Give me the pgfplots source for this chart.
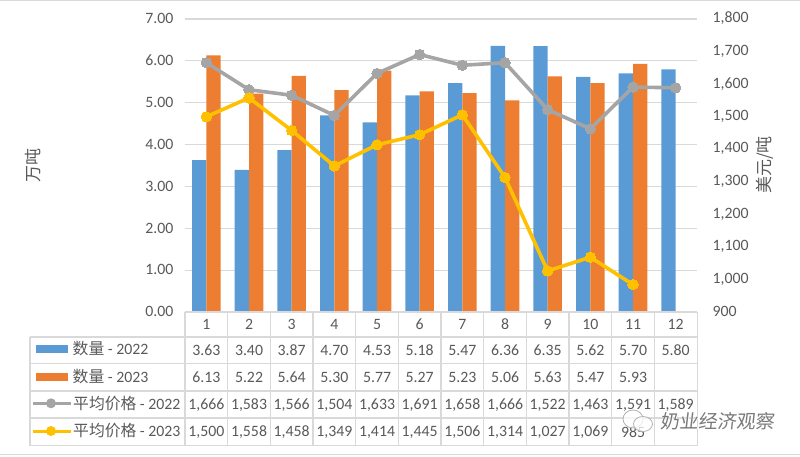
\documentclass[border=0pt]{standalone}
\usepackage{pgfplots}
\pgfplotsset{compat=1.18}
\usepackage{fontspec}
\setmainfont{Carlito}
\newfontfamily\cjk{Noto Sans CJK SC}
\newfontfamily\cjkmark[FakeSlant=0.12]{Noto Sans CJK SC}
\newfontfamily\cjkhalo[FakeSlant=0.12,FakeBold=4]{Noto Sans CJK SC}
\definecolor{txt}{HTML}{595959}
\definecolor{gridc}{HTML}{D9D9D9}
\definecolor{blue22}{HTML}{5B9BD5}
\definecolor{orange23}{HTML}{ED7D31}
\definecolor{gray22}{HTML}{A5A5A5}
\definecolor{gold23}{HTML}{FFC000}
\newcommand{\fs}{\fontsize{15.8}{15.8}\selectfont}
\newcommand{\rowvals}[2]{% row centre y, comma list
  \foreach \v [count=\i] in {#2} {\node[font=\fs,text=txt] at ({185+42.67*(\i-0.5)},#1) {\v};}}
\begin{document}
\begin{tikzpicture}[x=1pt,y=1pt]
\path[use as bounding box] (0,0) rectangle (800,456);
\draw[gridc,line width=1pt] (0,455.5) -- (800,455.5);
\draw[gridc,line width=1.2pt] (0,1.5) -- (800,1.5);
\begin{axis}[at={(185pt,143.7pt)},anchor=south west,scale only axis,width=512pt,height=293.3pt,
  xmin=0.5,xmax=12.5,ymin=0,ymax=7,ytick={0,1,...,7},xtick=\empty,
  axis y line*=left,axis x line*=bottom,y axis line style={draw=none},x axis line style={draw=none},
  major tick length=0pt,ymajorgrids,grid style={gridc,line width=1.1pt},
  ybar=0pt,bar width=0.335,
  /pgf/number format/assume math mode=true,
  /pgf/number format/fixed,/pgf/number format/fixed zerofill,/pgf/number format/precision=2,
  yticklabel style={font=\fs,text=txt,xshift=-8pt,yshift=0.5pt},
  clip=false]
\addplot[draw=none,fill=blue22] coordinates {(1,3.63)(2,3.40)(3,3.87)(4,4.70)(5,4.53)(6,5.18)(7,5.47)(8,6.36)(9,6.35)(10,5.62)(11,5.70)(12,5.80)};
\addplot[draw=none,fill=orange23] coordinates {(1,6.13)(2,5.22)(3,5.64)(4,5.30)(5,5.77)(6,5.27)(7,5.23)(8,5.06)(9,5.63)(10,5.47)(11,5.93)};
\end{axis}
\begin{axis}[at={(185pt,143.7pt)},anchor=south west,scale only axis,width=512pt,height=293.3pt,
  xmin=0.5,xmax=12.5,ymin=900,ymax=1800,ytick={900,1000,...,1800},xtick=\empty,
  axis y line*=right,axis x line=none,y axis line style={draw=none},
  major tick length=0pt,
  /pgf/number format/assume math mode=true,
  /pgf/number format/1000 sep={,},
  yticklabel style={font=\fs,text=txt,xshift=12pt,yshift=0.5pt},
  clip=false]
\addplot[gray22,line width=3.6pt,mark=*,mark size=5.2pt,mark options={line width=0pt},line join=round] coordinates {(1,1666)(2,1583)(3,1566)(4,1504)(5,1633)(6,1691)(7,1658)(8,1666)(9,1522)(10,1463)(11,1591)(12,1589)};
\addplot[gold23,line width=3.6pt,mark=*,mark size=5.2pt,mark options={line width=0pt},line join=round] coordinates {(1,1500)(2,1558)(3,1458)(4,1349)(5,1414)(6,1445)(7,1506)(8,1314)(9,1027)(10,1069)(11,985)};
\end{axis}
% data table under the plot
\draw[gridc,line width=1.1pt] (185,144) -- (697,144);
\foreach \y in {119,92.5,65,38,10.5} \draw[gridc,line width=1.1pt] (30,\y) -- (697,\y);
\draw[gridc,line width=1.1pt] (30,119) -- (30,10.5);
\foreach \i in {0,...,12} \draw[gridc,line width=1.1pt] ({185+42.67*\i},144) -- ({185+42.67*\i},10.5);
\rowvals{131.5}{1,2,3,4,5,6,7,8,9,10,11,12}
\rowvals{106}{3.63,3.40,3.87,4.70,4.53,5.18,5.47,6.36,6.35,5.62,5.70,5.80}
\rowvals{78.5}{6.13,5.22,5.64,5.30,5.77,5.27,5.23,5.06,5.63,5.47,5.93}
\rowvals{51}{{1,666},{1,583},{1,566},{1,504},{1,633},{1,691},{1,658},{1,666},{1,522},{1,463},{1,591},{1,589}}
\rowvals{23.5}{{1,500},{1,558},{1,458},{1,349},{1,414},{1,445},{1,506},{1,314},{1,027},{1,069},985}
% legend keys
\fill[blue22] (36,103) rectangle (68,111);
\fill[orange23] (36,75.5) rectangle (68,83.5);
\draw[gray22,line width=3pt] (33,52.7) -- (71,52.7); \fill[gray22] (51,52.7) circle (5);
\draw[gold23,line width=3pt] (33,25) -- (71,25); \fill[gold23] (51,25) circle (5);
\node[anchor=west,text=txt,font=\fs,inner sep=0] at (72.5,107) {{\cjk 数量} - 2022};
\node[anchor=west,text=txt,font=\fs,inner sep=0] at (72.5,79.5) {{\cjk 数量} - 2023};
\node[anchor=west,text=txt,font=\fs,inner sep=0] at (73,52.5) {{\cjk 平均价格} - 2022};
\node[anchor=west,text=txt,font=\fs,inner sep=0] at (73,25) {{\cjk 平均价格} - 2023};
% axis titles
\node[rotate=90,text=txt,font=\cjk\fontsize{17}{17}\selectfont] at (33,290.5) {万吨};
\node[rotate=90,text=txt,font=\cjk\fontsize{17}{17}\selectfont] at (765,291) {美元/吨};
% watermark
\node[anchor=west,text=white,font=\cjkhalo\fontsize{19}{19}\selectfont,inner sep=0] at (660,35) {奶业经济观察};
\node[anchor=west,text=txt!80,font=\cjkmark\fontsize{19}{19}\selectfont,inner sep=0] at (660,35) {奶业经济观察};
\filldraw[draw=gray!60,fill=white,fill opacity=0.75,line width=0.8pt] (633,37) ellipse (10 and 9);
\filldraw[draw=gray!60,fill=white,fill opacity=0.75,line width=0.8pt] (643,32) ellipse (9.5 and 7.5);
\end{tikzpicture}
\end{document}
